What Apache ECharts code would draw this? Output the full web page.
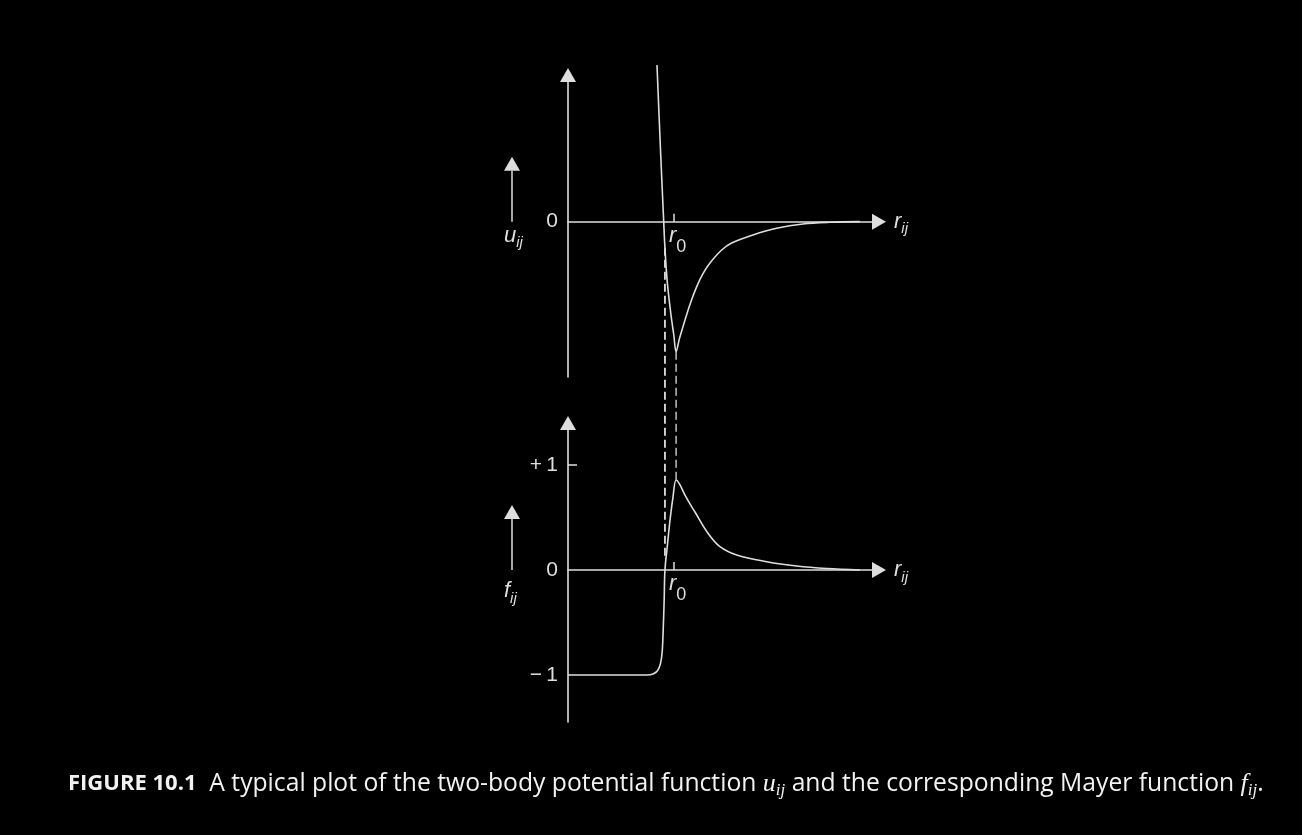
<!DOCTYPE html>
<html><head><meta charset="utf-8">
<script src="https://cdn.jsdelivr.net/npm/echarts@6/dist/echarts.min.js"></script>
<style>html,body{margin:0;background:#000;} #c{width:1302px;height:835px;}</style>
</head><body><div id="c"></div>
<script>
// ---- data (r in units of the zero-crossing distance, u in units of well depth) ----
const r0 = 1.104;
const uR = [0.927, 0.966, 0.997, 1.010, 1.034, 1.073, 1.102, 1.126, 1.161, 1.219, 1.276, 1.341, 1.406, 1.479, 1.601, 1.705, 1.927, 2.174, 2.448, 2.729, 3.04];
const uV = [1.205, 0.513, 0.0, -0.202, -0.462, -0.718, -0.87, -1.0, -0.90, -0.756, -0.625, -0.50, -0.40, -0.318, -0.218, -0.164, -0.102, -0.051, -0.018, -0.005, 0.0];
const fR = [0, 0.385, 0.823, 0.885, 0.932, 0.964, 0.982, 0.993, 1.002, 1.010, 1.034, 1.063, 1.094, 1.126, 1.161, 1.219, 1.280, 1.323, 1.458, 1.583, 1.757, 2.070, 2.382, 2.695, 3.04];
const fV = [-1.0, -1.0, -1.0, -0.99, -0.96, -0.89, -0.77, -0.54, -0.28, 0.0, 0.222, 0.476, 0.695, 0.857, 0.82, 0.714, 0.615, 0.552, 0.35, 0.222, 0.143, 0.079, 0.038, 0.014, 0.0];
const uLabelValues = [0];
const fLabelValues = [1, 0, -1];
const fTickValues = [1];
const dashR = [1.010, 1.126];
const dashU = [-0.2, -1.0];
const dashF = [0.1, 0.857];
const axisNames = ['u', 'f'];
const xName = 'r';
const captionHead = 'FIGURE 10.1';
const caption1 = 'A typical plot of the two-body potential function ';
const caption2 = ' and the corresponding Mayer function ';

const C = '#dedede';
const TXT = '#f2f2f2';
const sans = 'Liberation Sans';
// rich styles for axis components (ECharts textStyle: color)
const subRich = {
  r: {fontFamily: sans, fontStyle: 'italic', fontSize: 22, lineHeight: 30, color: C},
  s: {fontFamily: sans, fontStyle: 'italic', fontSize: 15, lineHeight: 17, verticalAlign: 'bottom', color: C}
};
// rich styles for graphic texts (zrender style: fill)
const gSubRich = {
  r: {fontFamily: sans, fontStyle: 'italic', fontSize: 22, lineHeight: 30, fill: C},
  s: {fontFamily: sans, fontStyle: 'italic', fontSize: 15, lineHeight: 17, verticalAlign: 'bottom', fill: C}
};
const gZeroRich = {
  r: {fontFamily: sans, fontStyle: 'italic', fontSize: 22, lineHeight: 40, fill: C},
  z: {fontFamily: sans, fontSize: 18, lineHeight: 18, verticalAlign: 'bottom', fill: C}
};

function xAxisDef(gi) {
  return {
    gridIndex: gi, type: 'value', min: 0, max: 3.24,
    axisLine: {onZero: true, symbol: ['none', 'triangle'], symbolSize: [16, 14], lineStyle: {color: C, width: 1.6}},
    axisTick: {show: true, customValues: [r0], inside: true, length: 8, lineStyle: {color: C, width: 1.5}},
    axisLabel: {show: false},
    splitLine: {show: false},
    name: '{r|' + xName + '}{s|ij}', nameLocation: 'end', nameGap: 15,
    nameTextStyle: {rich: subRich, align: 'left', verticalAlign: 'middle'}
  };
}
function yAxisDef(gi, min, max, labels, ticks) {
  return {
    gridIndex: gi, type: 'value', min: min, max: max,
    axisLine: {onZero: false, symbol: ['none', 'triangle'], symbolSize: [16, 14], lineStyle: {color: C, width: 1.6}},
    axisTick: ticks ? {show: true, customValues: ticks, inside: true, length: 9, lineStyle: {color: C, width: 1.5}} : {show: false},
    axisLabel: {customValues: labels, margin: 10, fontFamily: sans, fontSize: 21, color: C,
      formatter: v => v > 0 ? '+\u2009' + v : (v < 0 ? '\u2212\u2009' + Math.abs(v) : String(v))},
    splitLine: {show: false}
  };
}

const chart = echarts.init(document.getElementById('c'));
const option = {
  backgroundColor: '#000',
  animation: false,
  title: {
    left: 63, top: 764,
    text: '{b|' + captionHead + '}{t|  ' + caption1 + '}{m|u}{ms|ij}{t|' + caption2 + '}{m|f}{ms|ij}{t|.}',
    textStyle: {
      fontWeight: 'normal',
      rich: {
        b: {fontFamily: 'Open Sans', fontWeight: 'bold', fontSize: 22, lineHeight: 30, color: TXT},
        t: {fontFamily: 'Open Sans', fontWeight: 'normal', fontSize: 24.7, lineHeight: 30, color: TXT},
        m: {fontFamily: 'Liberation Serif', fontWeight: 'normal', fontStyle: 'italic', fontSize: 26, lineHeight: 30, color: TXT},
        ms: {fontFamily: 'Liberation Serif', fontWeight: 'normal', fontStyle: 'italic', fontSize: 17, lineHeight: 20, verticalAlign: 'bottom', color: TXT}
      }
    }
  },
  grid: [
    {left: 568, top: 75, width: 311, height: 302},
    {left: 568, top: 423, width: 311, height: 299}
  ],
  xAxis: [xAxisDef(0), xAxisDef(1)],
  yAxis: [
    yAxisDef(0, -1.195, 1.128, uLabelValues, null),
    yAxisDef(1, -1.448, 1.4, fLabelValues, fTickValues)
  ],
  series: [
    {type: 'line', xAxisIndex: 0, yAxisIndex: 0, data: uR.map((r, i) => [r, uV[i]]), showSymbol: false,
      smooth: 0.35, clip: false, lineStyle: {color: C, width: 1.6}},
    {type: 'line', xAxisIndex: 1, yAxisIndex: 1, data: fR.map((r, i) => [r, fV[i]]), showSymbol: false,
      smooth: 0.35, clip: false, lineStyle: {color: C, width: 1.6}}
  ]
};
chart.setOption(option);

const g = [];
dashR.forEach((r, i) => {
  const p1 = chart.convertToPixel({gridIndex: 0}, [r, dashU[i]]);
  const p2 = chart.convertToPixel({gridIndex: 1}, [r, dashF[i]]);
  g.push({type: 'line', silent: true, shape: {x1: p1[0], y1: p1[1], x2: p2[0], y2: p2[1]},
    style: {stroke: C, lineWidth: i === 0 ? 1.8 : 1.3, lineDash: [8, 4]}});
});
const nameDy = [-1, 6];
axisNames.forEach((nm, gi) => {
  const o = chart.convertToPixel({gridIndex: gi}, [0, 0]);
  const ax = o[0] - 56;
  g.push({type: 'line', silent: true, shape: {x1: ax, y1: o[1] - 51, x2: ax, y2: o[1]}, style: {stroke: C, lineWidth: 1.5}});
  g.push({type: 'polygon', silent: true, shape: {points: [[ax, o[1] - 65], [ax - 8, o[1] - 51], [ax + 8, o[1] - 51]]}, style: {fill: C}});
  g.push({type: 'text', silent: true, x: ax - 8, y: o[1] + nameDy[gi],
    style: {text: '{r|' + nm + '}{s|ij}', rich: gSubRich, align: 'left', verticalAlign: 'top'}});
  // r0 label under the tick
  const t = chart.convertToPixel({gridIndex: gi}, [r0, 0]);
  g.push({type: 'text', silent: true, x: t[0] - 5, y: t[1] - 6,
    style: {text: '{r|r}{z|0}', rich: gZeroRich, align: 'left', verticalAlign: 'top'}});
});
chart.setOption({graphic: g});
</script>
</body></html>
